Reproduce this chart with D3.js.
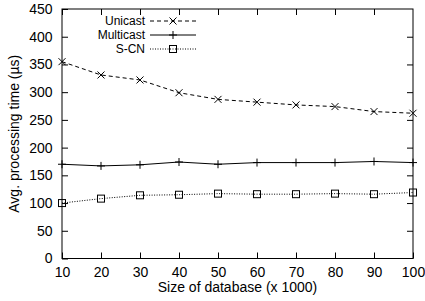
<!DOCTYPE html>
<html>
<head>
<meta charset="utf-8">
<script src="https://d3js.org/d3.v7.min.js"></script>
<style>
  body { margin: 0; background: #fff; }
  text { font-family: "Liberation Sans", Arial, sans-serif; }
</style>
</head>
<body>
<div id="chart"></div>
<script>
const sizes = [10, 20, 30, 40, 50, 60, 70, 80, 90, 100];
const unicast = [355, 331, 322, 299, 287, 282, 277, 274, 265, 262];
const multicast = [170, 167, 169, 174, 170, 173, 173, 173, 175, 173];
const scn = [100, 108, 114, 115, 117, 116, 116, 117, 116, 119];
const yTicks = [0, 50, 100, 150, 200, 250, 300, 350, 400, 450];
const seriesNames = ["Unicast", "Multicast", "S-CN"];

const width = 425, height = 301;
const margin = { top: 9, right: 12, bottom: 42.5, left: 62 };
const innerW = width - margin.left - margin.right;
const innerH = height - margin.top - margin.bottom;

const svg = d3.select("#chart").append("svg")
  .attr("width", width)
  .attr("height", height);

const g = svg.append("g")
  .attr("transform", `translate(${margin.left},${margin.top})`);

const x = d3.scaleLinear().domain([10, 100]).range([0, innerW]);
const y = d3.scaleLinear().domain([0, 450]).range([innerH, 0]);

const fontSize = 14;
const tickLen = 6;

// gnuplot-style inward ticks, mirrored
const xAxis = d3.axisBottom(x).tickValues(sizes).tickSize(-tickLen).tickPadding(9);
const yAxis = d3.axisLeft(y).tickValues(yTicks).tickSize(-tickLen).tickPadding(9.5);

g.append("g").attr("transform", `translate(0,${innerH})`).call(xAxis);
g.append("g").call(yAxis);
g.append("g").call(d3.axisTop(x).tickValues(sizes.slice(0, -1)).tickSize(-tickLen).tickFormat(""));
g.append("g").attr("transform", `translate(${innerW},0)`)
  .call(d3.axisRight(y).tickValues(yTicks.slice(1, -1)).tickSize(-tickLen).tickFormat(""));

g.selectAll(".domain").remove();
g.selectAll(".tick line").attr("stroke", "#000");
g.selectAll(".tick text").attr("font-size", fontSize).attr("fill", "#000")
  .attr("font-family", "Liberation Sans, Arial, sans-serif");

g.append("rect")
  .attr("width", innerW).attr("height", innerH)
  .attr("fill", "none").attr("stroke", "#000").attr("stroke-width", 1);

const series = [
  { name: seriesNames[0], values: unicast, dash: "4,3", marker: "x" },
  { name: seriesNames[1], values: multicast, dash: null, marker: "+" },
  { name: seriesNames[2], values: scn, dash: "1,1.5", marker: "sq" }
];

function drawMarker(sel, type, cx, cy) {
  const s = 3.5;
  if (type === "x") {
    sel.append("path").attr("d", `M${cx - s},${cy - s}L${cx + s},${cy + s}M${cx - s},${cy + s}L${cx + s},${cy - s}`)
      .attr("stroke", "#000").attr("stroke-width", 1);
  } else if (type === "+") {
    sel.append("path").attr("d", `M${cx - s - 0.5},${cy}L${cx + s + 0.5},${cy}M${cx},${cy - s - 0.5}L${cx},${cy + s + 0.5}`)
      .attr("stroke", "#000").attr("stroke-width", 1);
  } else {
    sel.append("rect").attr("x", cx - s).attr("y", cy - s).attr("width", 2 * s).attr("height", 2 * s)
      .attr("fill", "none").attr("stroke", "#000").attr("stroke-width", 1);
  }
}

const line = d3.line().x((d, i) => x(sizes[i])).y(d => y(d));

series.forEach(s => {
  g.append("path")
    .datum(s.values)
    .attr("d", line)
    .attr("fill", "none")
    .attr("stroke", "#000")
    .attr("stroke-width", 1)
    .attr("stroke-dasharray", s.dash);
  const mg = g.append("g");
  s.values.forEach((v, i) => drawMarker(mg, s.marker, x(sizes[i]), y(v)));
});

// legend (rows kept tight like the original, font a touch smaller so labels don't collide)
const legend = svg.append("g");
series.forEach((s, i) => {
  const ly = 21 + i * 14;
  legend.append("text")
    .attr("x", 145).attr("y", ly)
    .attr("dy", "0.35em")
    .attr("text-anchor", "end")
    .attr("font-size", 12)
    .text(s.name);
  legend.append("line")
    .attr("x1", 150).attr("x2", 196)
    .attr("y1", ly).attr("y2", ly)
    .attr("stroke", "#000").attr("stroke-width", 1)
    .attr("stroke-dasharray", s.dash);
  drawMarker(legend, s.marker, 173, ly);
});

svg.append("text")
  .attr("x", margin.left + innerW / 2)
  .attr("y", 292)
  .attr("text-anchor", "middle")
  .attr("font-size", fontSize)
  .text("Size of database (x 1000)");

svg.append("text")
  .attr("transform", `translate(19,${margin.top + innerH / 2}) rotate(-90)`)
  .attr("text-anchor", "middle")
  .attr("font-size", fontSize)
  .text("Avg. processing time (µs)");
</script>
</body>
</html>
